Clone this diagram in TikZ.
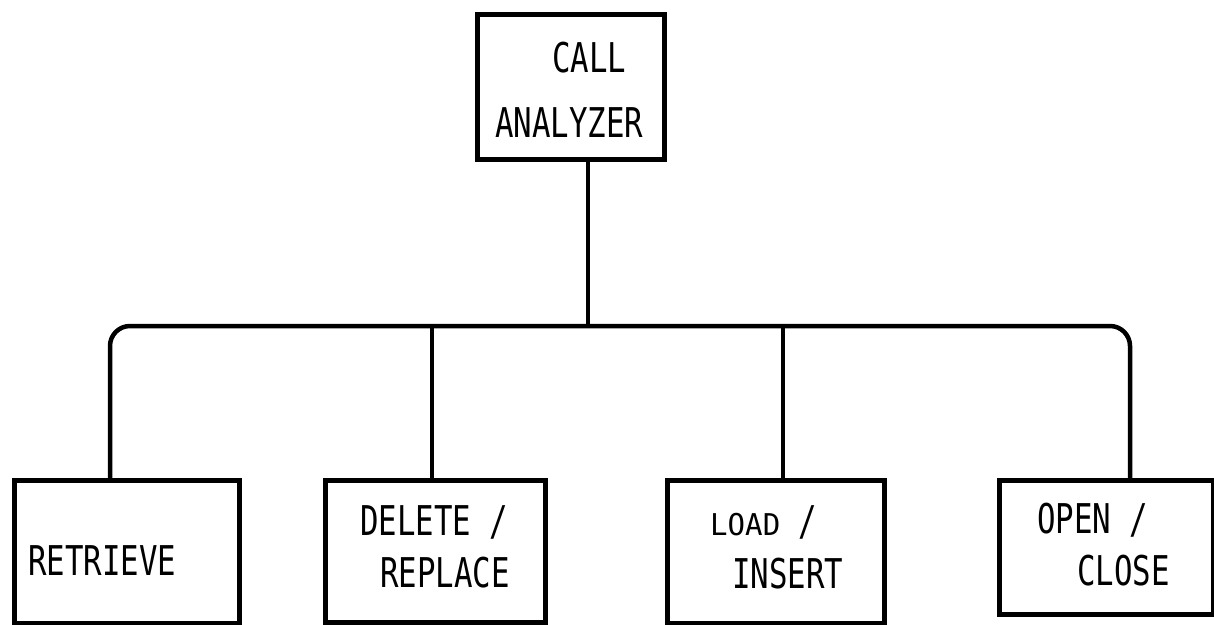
\documentclass[tikz,border=0pt]{standalone}
\usepackage{fontspec}
\newfontfamily\df[FakeStretch=0.75]{DejaVu Sans Mono}
\newfontfamily\dfs[FakeStretch=0.97]{DejaVu Sans Mono}
\begin{document}
\begin{tikzpicture}[x=1pt,y=-1pt,
  box/.style={draw=black, line width=4.5pt, rectangle, inner sep=0pt, anchor=north west},
  lbl/.style={inner sep=0pt, anchor=base west, font=\df\fontsize{41}{41}\selectfont},
  link/.style={draw=black, line width=4.5pt}]
\useasboundingbox (0,0) rectangle (1214,624);
\fill[white] (0,0) rectangle (1214,624);
% boxes
\node[box, minimum width=187pt, minimum height=145pt] (top) at (475,12) {};
\node[box, minimum width=225pt, minimum height=143pt] (ret) at (12,478) {};
\node[box, minimum width=220pt, minimum height=142pt] (del) at (323,478) {};
\node[box, minimum width=217pt, minimum height=143pt] (load) at (665,478) {};
\node[box, minimum width=214pt, minimum height=134pt] (open) at (997,478) {};
% texts
\node[lbl] (t1) at (552,72) {CALL};
\node[lbl] (t2) at (495,137) {ANALYZER};
\node[lbl] (t3) at (28,575) {RETRIEVE};
\node[lbl] (t4) at (360,535) {DELETE /};
\node[lbl] (t5) at (380,587) {REPLACE};
\node[lbl] (t6) at (710,535) {{\dfs\fontsize{30}{30}\selectfont LOAD} /};
\node[lbl] (t7) at (732,588) {INSERT};
\node[lbl] (t8) at (1037,533) {OPEN /};
\node[lbl] (t9) at (1077,585) {CLOSE};
% connector coordinates
\coordinate (s) at (588,157);
\coordinate (sb) at (588,326);
\coordinate (b1) at (110,326);
\coordinate (b2) at (432,326);
\coordinate (b3) at (783,326);
\coordinate (b4) at (1130,326);
\coordinate (c1) at (110,478);
\coordinate (c2) at (432,478);
\coordinate (c3) at (783,478);
\coordinate (c4) at (1130,478);
% connectors
\draw[link] (s) -- (sb);
\draw[link, rounded corners=20pt] (c1) -- (b1) -- (b4) -- (c4);
\draw[link] (b2) -- (c2);
\draw[link] (b3) -- (c3);
\end{tikzpicture}
\end{document}
